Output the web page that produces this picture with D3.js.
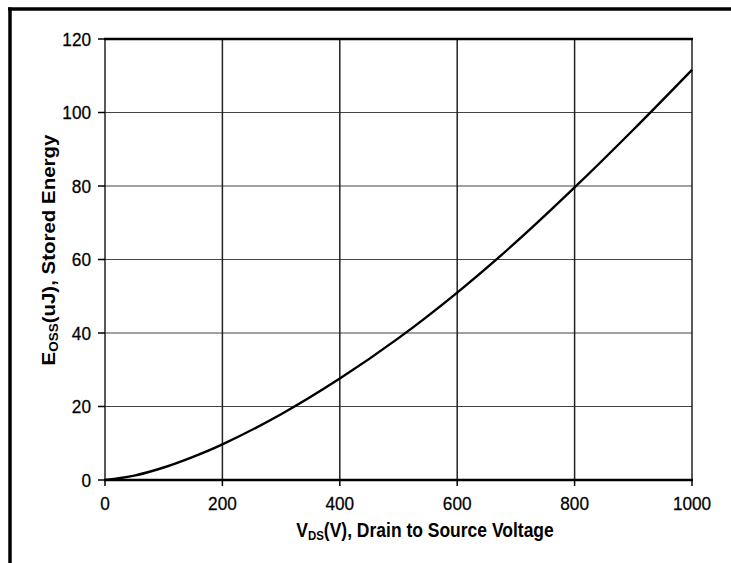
<!DOCTYPE html>
<html><head><meta charset="utf-8">
<script src="https://cdn.jsdelivr.net/npm/d3@7"></script>
<style>body{margin:0;background:#fff}svg{display:block}text{font-family:"Liberation Sans",Arial,sans-serif;fill:#000}</style>
</head><body>
<svg id="c" width="731" height="563"></svg>
<script>
const voltage = [0, 50, 100, 150, 200, 300, 400, 500, 600, 700, 800, 900, 1000];
const energy  = [0, 1.2, 3.4, 6.3, 9.7, 17.9, 27.6, 38.6, 51.0, 64.7, 79.6, 95.3, 111.6];
const xTicks = [0, 200, 400, 600, 800, 1000];
const yTicks = [0, 20, 40, 60, 80, 100, 120];

const svg = d3.select("#c");
const L = 105, R = 692, T = 39, B = 480;
const x = d3.scaleLinear().domain([0, 1000]).range([L, R]);
const y = d3.scaleLinear().domain([0, 120]).range([B, T]);
const SY = 1.12;
const FS = 17.2;

// outer frame lines (top and left)
svg.append("line").attr("x1", 8).attr("x2", 731).attr("y1", 9).attr("y2", 9).attr("stroke", "#000").attr("stroke-width", 3.5);
svg.append("line").attr("x1", 10).attr("x2", 10).attr("y1", 7.5).attr("y2", 563).attr("stroke", "#000").attr("stroke-width", 3.5);

// gridlines
svg.append("g").selectAll("line").data(yTicks.filter(d => d > 0 && d < 120)).join("line")
  .attr("x1", L).attr("x2", R).attr("y1", d => y(d)).attr("y2", d => y(d))
  .attr("stroke", "#444").attr("stroke-width", 1.2);
svg.append("g").selectAll("line").data(xTicks.filter(d => d > 0 && d < 1000)).join("line")
  .attr("y1", T).attr("y2", B).attr("x1", d => x(d)).attr("x2", d => x(d))
  .attr("stroke", "#222").attr("stroke-width", 1.5);

// frame
svg.append("line").attr("x1", L).attr("x2", L).attr("y1", T).attr("y2", B).attr("stroke", "#222").attr("stroke-width", 1.5);
svg.append("line").attr("x1", R).attr("x2", R).attr("y1", T).attr("y2", B).attr("stroke", "#222").attr("stroke-width", 1.5);
svg.append("line").attr("x1", L - 1).attr("x2", R + 1).attr("y1", T).attr("y2", T).attr("stroke", "#000").attr("stroke-width", 2.5);
svg.append("line").attr("x1", L - 1).attr("x2", R + 1).attr("y1", B).attr("y2", B).attr("stroke", "#000").attr("stroke-width", 2.5);

// ticks
svg.append("g").selectAll("line").data(yTicks).join("line")
  .attr("x1", L - 7).attr("x2", L).attr("y1", d => y(d)).attr("y2", d => y(d))
  .attr("stroke", "#000").attr("stroke-width", 1.5);
svg.append("g").selectAll("line").data(xTicks).join("line")
  .attr("y1", B).attr("y2", B + 6).attr("x1", d => x(d)).attr("x2", d => x(d))
  .attr("stroke", "#000").attr("stroke-width", 1.5);

// tick labels
svg.append("g").selectAll("text").data(yTicks).join("text")
  .attr("transform", d => `translate(${L - 14},${y(d) + 6.2 * SY}) scale(1,${SY})`)
  .attr("text-anchor", "end").attr("font-size", FS).attr("stroke", "#000").attr("stroke-width", 0.25).text(d => d);
svg.append("g").selectAll("text").data(xTicks).join("text")
  .attr("transform", d => `translate(${x(d)},${510}) scale(1,${SY})`)
  .attr("text-anchor", "middle").attr("font-size", FS).attr("stroke", "#000").attr("stroke-width", 0.25).text(d => d);

// curve
const pts = voltage.map((v, i) => [v, energy[i]]);
svg.append("path").datum(pts)
  .attr("d", d3.line().x(d => x(d[0])).y(d => y(d[1])).curve(d3.curveCatmullRom.alpha(0.5)))
  .attr("fill", "none").attr("stroke", "#000").attr("stroke-width", 2.4);

// x title
const xt = svg.append("text").attr("transform", `translate(425,537) scale(1,${SY})`)
  .attr("text-anchor", "middle").attr("font-size", FS + 0.3).attr("font-weight", "bold");
xt.append("tspan").text("V");
xt.append("tspan").attr("font-size", 11.5).attr("dy", 3).text("DS");
xt.append("tspan").attr("dy", -3).text("(V), Drain to Source Voltage");

// y title
const yt = svg.append("text").attr("transform", `translate(55,250) rotate(-90) scale(1.17,1.04)`)
  .attr("text-anchor", "middle").attr("font-size", FS + 0.3).attr("font-weight", "bold");
yt.append("tspan").text("E");
yt.append("tspan").attr("font-size", 11.5).attr("dy", 3).text("OSS");
yt.append("tspan").attr("dy", -3).text("(uJ), Stored Energy");
</script>
</body></html>
